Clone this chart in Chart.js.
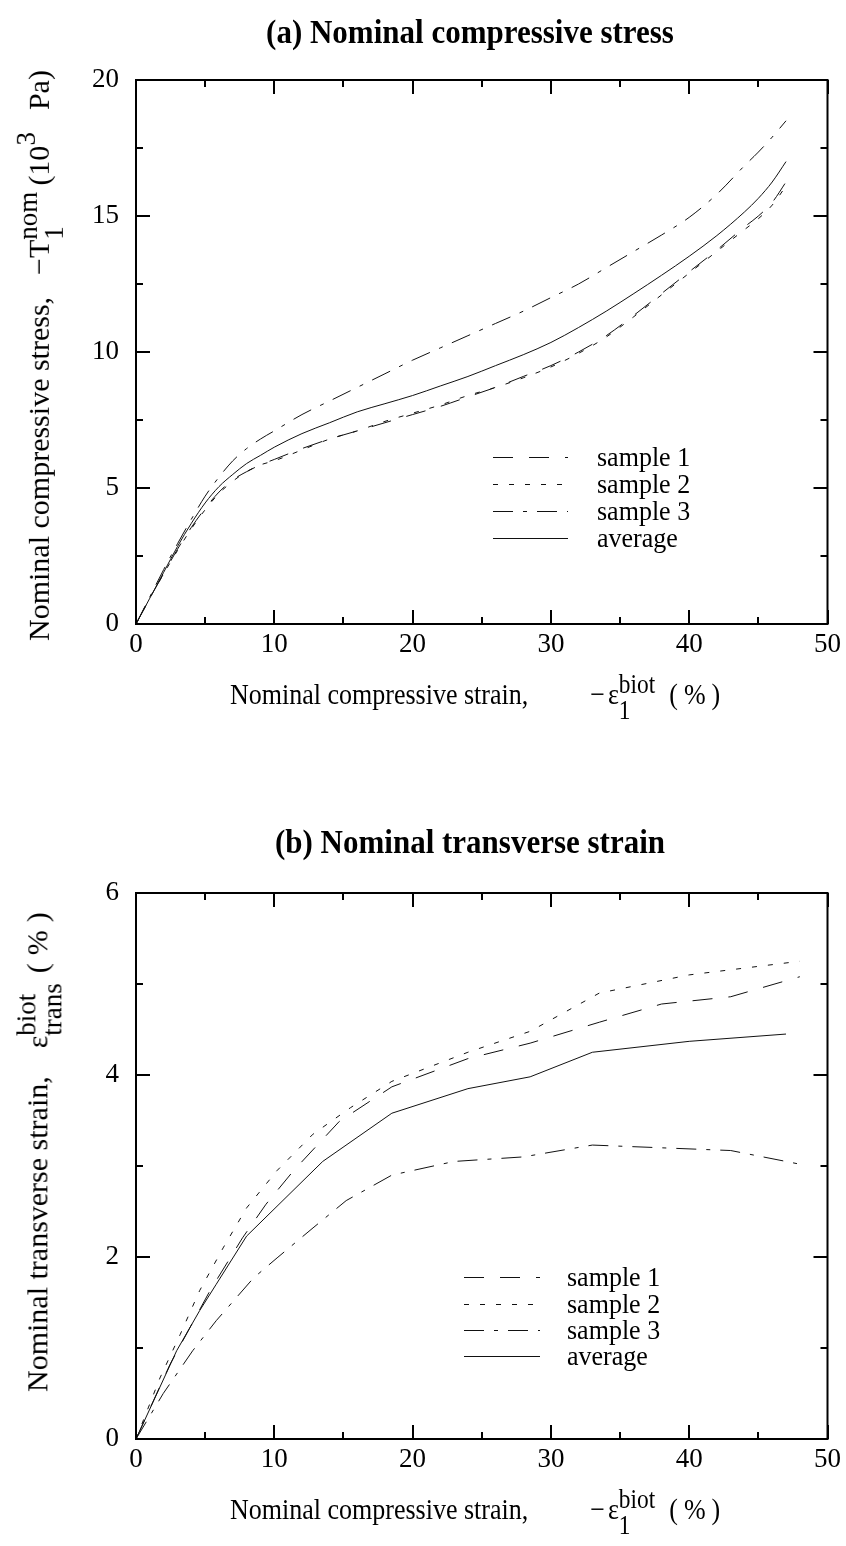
<!DOCTYPE html>
<html><head><meta charset="utf-8">
<script src="https://cdn.jsdelivr.net/npm/chart.js@4.4.0/dist/chart.umd.min.js"></script>
<style>
html,body{margin:0;padding:0;background:#fff;}
body{width:846px;height:1546px;position:relative;overflow:hidden;font-family:"Liberation Serif","Times New Roman",serif;color:#000;}
canvas{position:absolute;left:0;}
.t{position:absolute;white-space:nowrap;line-height:1;}
.title{font-weight:bold;font-size:31px;transform:translate(-50%,-50%) scaleY(1.12);}
.xt{font-size:26px;transform:translateY(-50%) scaleY(1.15);}
.yt{font-size:30px;transform-origin:0 0;transform:rotate(-90deg) translateY(-50%);}
.ss{display:inline-flex;flex-direction:column;vertical-align:middle;font-size:0.9em;line-height:0.95;text-align:left;}
.sp{font-size:0.9em;vertical-align:0.5em;}
.gap{display:inline-block;}
.leg{font-size:26px;transform:translateY(-50%) scaleY(1.08);}
</style></head><body>
<canvas id="c1" width="846" height="760" style="top:0"></canvas>
<canvas id="c2" width="846" height="776" style="top:770px"></canvas>

<div class="t title" style="left:470px;top:31px">(a) Nominal compressive stress</div>
<div class="t xt" style="left:230px;top:697px">Nominal compressive strain,<span class="gap" style="width:62px"></span>−<span class="gap" style="width:3px"></span>ε<span class="ss"><span>biot</span><span>1</span></span><span class="gap" style="width:14px"></span>(<span class="gap" style="width:6px"></span>%<span class="gap" style="width:6px"></span>)</div>
<div class="t yt" style="left:40px;top:641px">Nominal compressive stress,<span class="gap" style="width:22px"></span>−T<span class="ss"><span>nom</span><span>1</span></span><span class="gap" style="width:6px"></span>(10<span class="sp">3</span><span class="gap" style="width:22px"></span>Pa)</div>

<div class="t title" style="left:470px;top:841px">(b) Nominal transverse strain</div>
<div class="t xt" style="left:230px;top:1512px">Nominal compressive strain,<span class="gap" style="width:62px"></span>−<span class="gap" style="width:3px"></span>ε<span class="ss"><span>biot</span><span>1</span></span><span class="gap" style="width:14px"></span>(<span class="gap" style="width:6px"></span>%<span class="gap" style="width:6px"></span>)</div>
<div class="t yt" style="left:40px;top:1392px">Nominal transverse strain,<span class="gap" style="width:28px"></span>ε<span class="ss"><span>biot</span><span>trans</span></span><span class="gap" style="width:10px"></span>(<span class="gap" style="width:8px"></span>%<span class="gap" style="width:8px"></span>)</div>

<div id="leg1"></div>
<div id="leg2"></div>

<script>
// ---------- Data: chart (a) ----------
const strainA = [0,1,2,3,4,5,6,7,8,9,10,12,14,16,18,20,22,24,26,28,30,32,34,36,38,40,42,44,45,46,47];
const stressS1 = [0,0.95,1.85,2.75,3.55,4.25,4.85,5.3,5.6,5.85,6.05,6.45,6.8,7.1,7.4,7.7,8.0,8.35,8.7,9.1,9.5,10.0,10.6,11.35,12.15,12.95,13.75,14.6,15.0,15.5,16.25];
const stressS2 = [0,0.95,1.85,2.7,3.5,4.2,4.8,5.25,5.6,5.85,6.0,6.4,6.8,7.1,7.45,7.75,8.05,8.4,8.7,9.05,9.45,9.95,10.55,11.3,12.1,12.9,13.7,14.5,14.9,15.4,16.1];
const stressS3 = [0,1.0,2.0,2.95,3.85,4.7,5.4,6.0,6.45,6.8,7.1,7.7,8.2,8.7,9.2,9.7,10.15,10.6,11.05,11.5,12.0,12.5,13.1,13.7,14.3,14.95,15.8,16.85,17.35,17.9,18.5];
const stressAvg = [0,0.95,1.9,2.85,3.7,4.45,5.05,5.5,5.9,6.2,6.5,7.0,7.4,7.8,8.1,8.4,8.75,9.1,9.5,9.9,10.35,10.9,11.5,12.15,12.82,13.52,14.28,15.15,15.65,16.25,17.0];

// ---------- Data: chart (b) ----------
const strainB1 = [0,2.46,5.35,7.7,9.4,11.4,14.7,18.5,24,28.5,33.5,38,43,48];
const transS1  = [0,0.82,1.63,2.21,2.58,2.95,3.49,3.87,4.18,4.35,4.58,4.78,4.86,5.08];
const strainB2 = [0,1.73,3.2,4.6,6.3,8,10.2,12.8,15.5,18.5,24,28.5,33.5,40,48];
const transS2  = [0,0.67,1.15,1.63,2.1,2.54,2.95,3.35,3.64,3.93,4.25,4.48,4.9,5.1,5.25];
const strainB3 = [0,1.97,4.1,5.8,8.5,10.2,12.8,15.2,18.5,23,28,33,38,43,48];
const transS3  = [0,0.5,0.97,1.3,1.77,1.99,2.32,2.62,2.9,3.05,3.1,3.23,3.2,3.17,3.02];
const strainBA = [0,2.94,4.6,5.8,8,13.5,18.5,24,28.5,33,40,47];
const transAvg = [0,0.97,1.41,1.70,2.23,3.05,3.58,3.85,3.98,4.25,4.37,4.45];

// ---------- Labels & ticks ----------
const seriesNames = ['sample 1','sample 2','sample 3','average'];
const xMajorTicks = [0,10,20,30,40,50];
const xMinorTicks = [5,15,25,35,45];
const yMajorTicksA = [0,5,10,15,20];
const yMinorTicksA = [2.5,7.5,12.5,17.5];
const yMajorTicksB = [0,2,4,6];
const yMinorTicksB = [1,3,5];

const dashes = [[20,16],[5,11],[20,10,4,10],[]];
const FONT = '"Liberation Serif","Times New Roman",serif';

function pts(xs, ys){ return xs.map((v,i)=>({x:v,y:ys[i]})); }

function mkDatasets(list, smooth){
  return list.map((d,i)=>({
    label: seriesNames[i], data: d, borderColor:'#111', borderWidth:1,
    borderDash: dashes[i], pointRadius:0, fill:false,
    tension: 0, cubicInterpolationMode: smooth ? 'monotone' : 'default'
  }));
}

const frameTicks = {
  id:'frameTicks',
  afterDatasetsDraw(chart, args, o){
    const {ctx, chartArea:{left,right,top,bottom}, scales:{x,y}} = chart;
    ctx.save();
    ctx.strokeStyle='#000'; ctx.lineWidth=2; ctx.setLineDash([]);
    ctx.beginPath();
    const ln=(a,b,c,d)=>{ctx.moveTo(a,b);ctx.lineTo(c,d);};
    const vx=(vals,len)=>vals.forEach(v=>{const p=Math.round(x.getPixelForValue(v)); ln(p,bottom,p,bottom-len); ln(p,top,p,top+len);});
    const vy=(vals,len)=>vals.forEach(v=>{const p=Math.round(y.getPixelForValue(v)); ln(left,p,left+len,p); ln(right,p,right-len,p);});
    vx(o.xMajor,14); vx(o.xMinor,7); vy(o.yMajor,14); vy(o.yMinor,7);
    ctx.stroke();
    ctx.strokeRect(left,top,right-left,bottom-top);
    // legend line samples
    ctx.lineWidth=1; ctx.strokeStyle='#111';
    chart.data.datasets.forEach((ds,i)=>{
      const yy=o.legY[i]-o.canvasTop+0.5;
      ctx.setLineDash(ds.borderDash||[]);
      ctx.beginPath(); ctx.moveTo(o.legX0,yy); ctx.lineTo(o.legX1,yy); ctx.stroke();
    });
    ctx.restore();
  }
};

function makeChart(id, datasets, yMax, yStep, padTop, xHeight, tickOpts){
  return new Chart(document.getElementById(id), {
    type:'line',
    data:{datasets},
    options:{
      responsive:false, animation:false, devicePixelRatio:1,
      layout:{padding:{top:padTop,right:18,left:0,bottom:0}},
      plugins:{legend:{display:false}, tooltip:{enabled:false}, frameTicks:tickOpts},
      scales:{
        x:{type:'linear', min:0, max:50,
           grid:{display:false, drawTicks:false}, border:{display:false},
           ticks:{stepSize:10, padding:5, color:'#000', font:{family:FONT,size:27}, maxRotation:0},
           afterFit:s=>{s.height=xHeight;}},
        y:{type:'linear', min:0, max:yMax,
           grid:{display:false, drawTicks:false}, border:{display:false},
           ticks:{stepSize:yStep, padding:17, color:'#000', font:{family:FONT,size:27}},
           afterFit:s=>{s.width=136;}}
      }
    },
    plugins:[frameTicks]
  });
}

makeChart('c1',
  mkDatasets([pts(strainA,stressS1),pts(strainA,stressS2),pts(strainA,stressS3),pts(strainA,stressAvg)], true),
  20, 5, 80, 136,
  {xMajor:xMajorTicks,xMinor:xMinorTicks,yMajor:yMajorTicksA,yMinor:yMinorTicksA,
   legX0:493,legX1:568,legY:[457,484,511,538],canvasTop:0});

makeChart('c2',
  mkDatasets([pts(strainB1,transS1),pts(strainB2,transS2),pts(strainB3,transS3),pts(strainBA,transAvg)], false),
  6, 2, 123, 107,
  {xMajor:xMajorTicks,xMinor:xMinorTicks,yMajor:yMajorTicksB,yMinor:yMinorTicksB,
   legX0:464,legX1:540,legY:[1277,1304,1330,1356],canvasTop:770});

// legend texts (real text)
function legText(el, x, ys){
  document.getElementById(el).innerHTML = seriesNames.map((n,i)=>
    `<div class="t leg" style="left:${x}px;top:${ys[i]}px">${n}</div>`).join('');
}
legText('leg1', 597, [457,484,511,538]);
legText('leg2', 567, [1277,1304,1330,1356]);
</script>
</body></html>
